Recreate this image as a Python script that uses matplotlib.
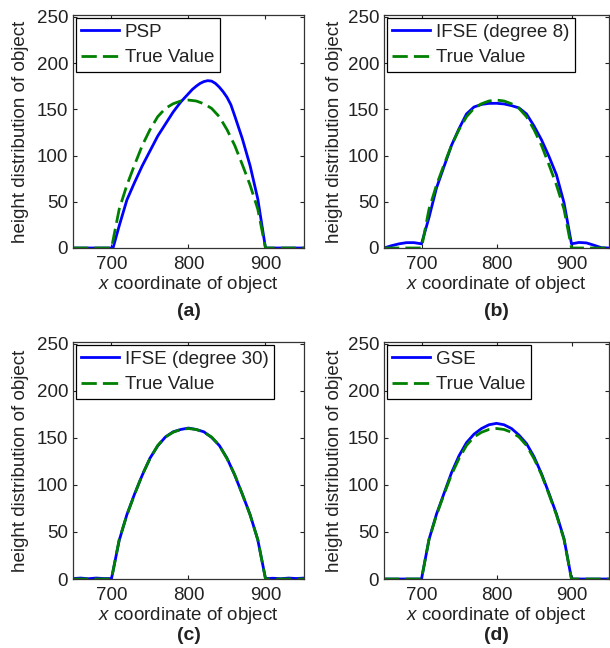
import matplotlib
matplotlib.use("Agg")
import matplotlib.pyplot as plt
import numpy as np

plt.rcParams['font.family'] = ['Liberation Sans', 'DejaVu Sans']
plt.rcParams['mathtext.fontset'] = 'custom'
plt.rcParams['mathtext.rm'] = 'Liberation Sans'
plt.rcParams['mathtext.it'] = 'Liberation Sans:italic'

# ---- data ----
x_true = [650, 700, 710, 720, 730, 740, 750, 760, 770, 780, 790, 800,
          810, 820, 830, 840, 850, 860, 870, 880, 890, 900, 950]
y_true = [0, 0, 42, 68, 90, 111, 128, 142, 151, 156, 159, 160,
          159, 156, 151, 142, 128, 111, 90, 68, 42, 0, 0]

x_psp = [650, 700, 702, 710, 720, 730, 740, 750, 760, 770, 780, 790, 800,
         805, 810, 815, 820, 825, 830, 835, 840, 845, 850, 855, 860, 870,
         880, 890, 900, 950]
y_psp = [0, 0, 0, 24, 52, 71, 89, 105, 121, 134, 147, 158, 167,
         171.5, 175, 178, 180, 181, 180.5, 178, 174, 169, 163, 155, 143, 118,
         89, 53, 0, 0]

x_ifse8 = [650, 660, 670, 680, 690, 700, 710, 720, 730, 740, 750, 760, 770,
           780, 790, 800, 810, 820, 830, 840, 850, 860, 870, 880, 890, 900,
           910, 920, 930, 940, 950]
y_ifse8 = [0, 2.5, 4.5, 5.8, 5.8, 4.5, 33, 65, 88, 111, 129, 145, 152.5,
           155.3, 156.4, 156.5, 155.8, 154, 151.5, 145, 132, 117, 99, 79, 49, 4.5,
           6, 5.5, 3, 0.3, 0]

x_ifse30 = [650, 660, 670, 680, 690, 700, 710, 720, 730, 740, 750, 760, 770,
            780, 790, 800, 810, 820, 830, 840, 850, 860, 870, 880, 890, 900,
            910, 920, 930, 940, 950]
y_ifse30 = [0.5, 1, 0.3, 1, 0.5, 0.5, 41, 68.5, 90.5, 110.5, 128.5, 141.5, 151,
            156.5, 159, 160.5, 159, 156.5, 150.5, 142, 128.5, 110.5, 90, 68.5, 41.5, 0.5,
            0.8, 0.3, 1, 0.5, 1]

x_gse = [650, 700, 710, 720, 730, 740, 750, 760, 770, 780, 790, 800,
         810, 820, 830, 840, 850, 860, 870, 880, 890, 900, 950]
y_gse = [0, 0, 42, 69, 91, 113, 131, 145, 154, 160, 164, 165.5,
         164, 160, 153, 144, 130, 112, 91, 69, 43, 0, 0]

labels = ['PSP', 'IFSE (degree 8)', 'IFSE (degree 30)', 'GSE']
captions = ['(a)', '(b)', '(c)', '(d)']
est_x = [x_psp, x_ifse8, x_ifse30, x_gse]
est_y = [y_psp, y_ifse8, y_ifse30, y_gse]

xticks = [700, 800, 900]
yticks = [0, 50, 100, 150, 200, 250]

W, H = 610, 648
fig = plt.figure(figsize=(W / 100, H / 100), dpi=100)

# axes boxes in pixels: left, top, right, bottom
boxes = [(73, 15, 304, 248), (384, 15, 609, 248),
         (73, 342, 304, 579), (384, 342, 609, 579)]

FS = 13.5
TXT = '#222222'

for i, (l, t, r, b) in enumerate(boxes):
    w, h = r - l, b - t
    ax = fig.add_axes([l / W, 1 - b / H, w / W, h / H])
    ax.plot(est_x[i], est_y[i], color=(0, 0, 1), lw=2.0, label=labels[i])
    ax.plot(x_true, y_true, color=(0, 0.5, 0), lw=2.0, ls=(0, (5.5, 2.2)),
            label='True Value')
    ax.set_xlim(650, 950)
    ax.set_ylim(0, 252)
    ax.set_xticks(xticks)
    ax.set_yticks(yticks)
    ax.tick_params(direction='in', length=3, width=0.8, top=True, right=True,
                   labelsize=FS, colors=TXT)
    ax.tick_params(axis='x', pad=6)
    ax.tick_params(axis='y', pad=3.5)
    for sp in ax.spines.values():
        sp.set_linewidth(0.9)
        sp.set_color('#333333')
    ax.set_xlabel(r'$x$ coordinate of object', fontsize=FS, color=TXT)
    ax.set_ylabel('height distribution of object', fontsize=FS, color=TXT)
    ax.xaxis.set_label_coords(0.5, -26 / h)
    ax.yaxis.set_label_coords(-(l - 29 if i % 2 == 0 else l - 343) / w, 0.5)
    leg = ax.legend(loc='upper left', fontsize=FS, frameon=True, fancybox=False,
                    edgecolor='black', framealpha=1, borderaxespad=0.15,
                    handlelength=2.0, handletextpad=0.3, labelspacing=0.45,
                    borderpad=0.3)
    leg.get_frame().set_linewidth(0.9)
    for txt in leg.get_texts():
        txt.set_color(TXT)
    cy = 312 if i < 2 else 636
    fig.text((l + r) / 2 / W, 1 - cy / H, captions[i], ha='center',
             va='center', fontsize=14, fontweight='bold', color=TXT)

fig.savefig('out.png', dpi=100)
